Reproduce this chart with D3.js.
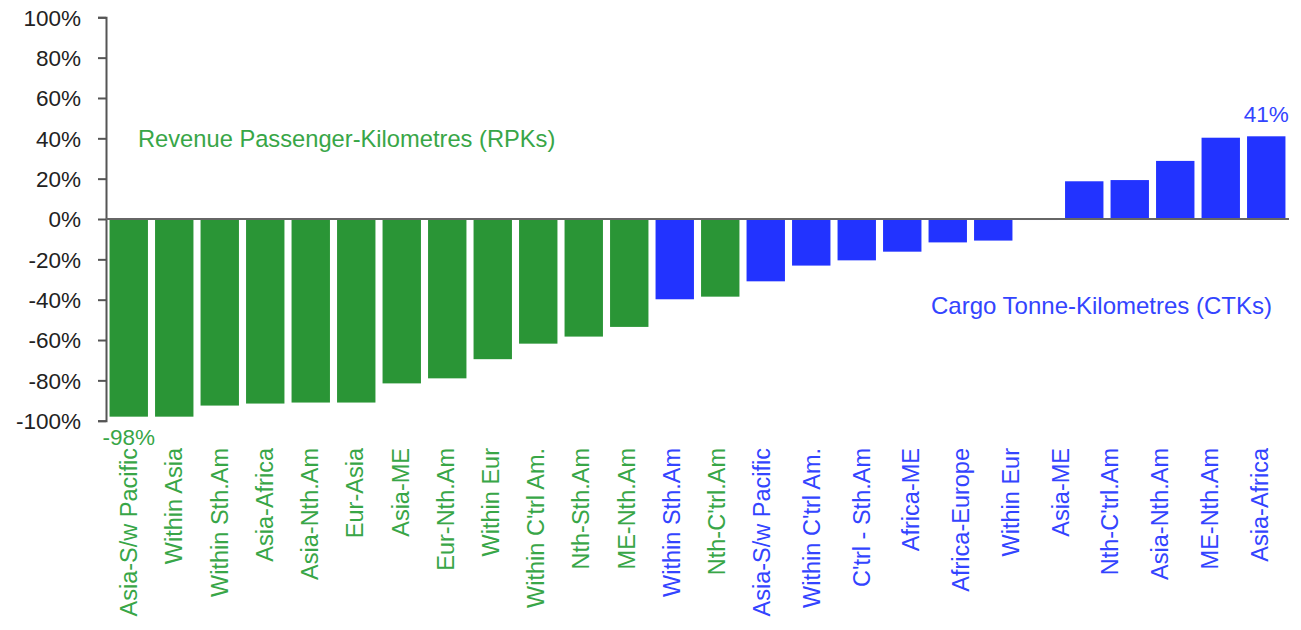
<!DOCTYPE html>
<html>
<head>
<meta charset="utf-8">
<script src="https://cdn.jsdelivr.net/npm/d3@7"></script>
<style>
  html, body { margin: 0; padding: 0; background: #fff; }
  svg { display: block; font-family: "Liberation Sans", Arial, sans-serif; }
</style>
</head>
<body>
<svg id="chart" width="1301" height="630"></svg>
<script>
// Year-on-year change by route area: passenger traffic (RPKs) and cargo traffic (CTKs)
const changes = [-98, -98, -92.5, -91.5, -91, -91, -81.5, -79, -69.5, -61.8, -58.3, -53.5,
                 -39.8, -38.5, -30.9, -23.1, -20.5, -16.2, -11.6, -10.7, -0.5,
                 18.7, 19.3, 28.8, 40.3, 41];
const barSeries = ["RPK", "RPK", "RPK", "RPK", "RPK", "RPK", "RPK", "RPK", "RPK", "RPK", "RPK", "RPK",
                   "CTK", "RPK", "CTK", "CTK", "CTK", "CTK", "CTK", "CTK", "CTK",
                   "CTK", "CTK", "CTK", "CTK", "CTK"];

const routes = ["Asia-S/w Pacific", "Within Asia", "Within Sth.Am", "Asia-Africa", "Asia-Nth.Am",
                "Eur-Asia", "Asia-ME", "Eur-Nth.Am", "Within Eur", "Within C'trl Am.", "Nth-Sth.Am",
                "ME-Nth.Am", "Within Sth.Am", "Nth-C'trl.Am", "Asia-S/w Pacific", "Within C'trl Am.",
                "C'trl - Sth.Am", "Africa-ME", "Africa-Europe", "Within Eur", "Asia-ME",
                "Nth-C'trl.Am", "Asia-Nth.Am", "ME-Nth.Am", "Asia-Africa"];
const routeSeries = ["RPK", "RPK", "RPK", "RPK", "RPK", "RPK", "RPK", "RPK", "RPK", "RPK", "RPK", "RPK",
                     "CTK", "RPK", "CTK", "CTK", "CTK", "CTK", "CTK", "CTK", "CTK",
                     "CTK", "CTK", "CTK", "CTK"];

const yTicks = [-100, -80, -60, -40, -20, 0, 20, 40, 60, 80, 100];

const seriesNames = { RPK: "Revenue Passenger-Kilometres (RPKs)", CTK: "Cargo Tonne-Kilometres (CTKs)" };
const colors = { RPK: "#2a9536", CTK: "#2233ff" };
const textColors = { RPK: "#38a647", CTK: "#3344ff" };

(function draw() {
  const svg = d3.select("#chart");
  const plotLeft = 106, plotRight = 1289, plotTop = 17.3, plotBottom = 420.7;
  const pct = v => Math.round(v) + "%";

  const x = d3.scaleBand()
    .domain(d3.range(changes.length))
    .range([plotLeft, plotRight])
    .paddingInner(0.156)
    .paddingOuter(0.078);

  const y = d3.scaleLinear().domain([-100, 100]).range([plotBottom, plotTop]);

  // Bars
  svg.append("g")
    .selectAll("rect")
    .data(changes)
    .join("rect")
    .attr("x", (d, i) => x(i))
    .attr("width", x.bandwidth())
    .attr("y", d => y(Math.max(0, d)))
    .attr("height", d => Math.abs(y(d) - y(0)))
    .attr("fill", (d, i) => colors[barSeries[i]]);

  // Y axis
  const yAxis = d3.axisLeft(y)
    .tickValues(yTicks)
    .tickFormat(pct)
    .tickSize(8)
    .tickPadding(17);

  const gy = svg.append("g")
    .attr("transform", `translate(${plotLeft},0)`)
    .call(yAxis);
  gy.select(".domain").attr("stroke", "#555").attr("stroke-width", 2);
  gy.selectAll(".tick line").attr("stroke", "#555").attr("stroke-width", 2);
  gy.selectAll(".tick text")
    .attr("fill", "#222")
    .style("font-size", "22.5px")
    .style("font-family", "Liberation Sans, Arial, sans-serif")
    .attr("dy", "0.35em");

  // Zero line
  svg.append("line")
    .attr("x1", plotLeft).attr("x2", plotRight)
    .attr("y1", y(0)).attr("y2", y(0))
    .attr("stroke", "#666").attr("stroke-width", 2);

  // Route labels under the plot, spreading out towards the right end
  const cx = i => x(i) + x.bandwidth() / 2;
  const labelX = d3.scaleLinear()
    .domain([0, 14, routes.length - 1])
    .range([cx(0), cx(14) - 4, cx(changes.length - 1) - 7]);

  svg.append("g")
    .selectAll("text")
    .data(routes)
    .join("text")
    .attr("transform", (d, i) => `translate(${labelX(i)},448) rotate(-90)`)
    .attr("text-anchor", "end")
    .attr("dy", "0.36em")
    .attr("fill", (d, i) => textColors[routeSeries[i]])
    .style("font-size", "23.5px")
    .text(d => d);

  // Value annotations on the first and last bars
  const firstIdx = 0, lastIdx = changes.length - 1;
  svg.append("text")
    .attr("x", cx(firstIdx))
    .attr("y", y(changes[firstIdx]) + 28)
    .attr("text-anchor", "middle")
    .attr("fill", textColors[barSeries[firstIdx]])
    .style("font-size", "22.5px")
    .text(pct(changes[firstIdx]));

  svg.append("text")
    .attr("x", cx(lastIdx))
    .attr("y", y(changes[lastIdx]) - 14)
    .attr("text-anchor", "middle")
    .attr("fill", textColors[barSeries[lastIdx]])
    .style("font-size", "22.5px")
    .text(pct(changes[lastIdx]));

  // Series captions
  svg.append("text")
    .attr("x", 138).attr("y", 147)
    .attr("fill", textColors.RPK)
    .style("font-size", "23.7px")
    .text(seriesNames.RPK);

  svg.append("text")
    .attr("x", 1272).attr("y", 314)
    .attr("text-anchor", "end")
    .attr("fill", textColors.CTK)
    .style("font-size", "24px")
    .text(seriesNames.CTK);
})();
</script>
</body>
</html>
